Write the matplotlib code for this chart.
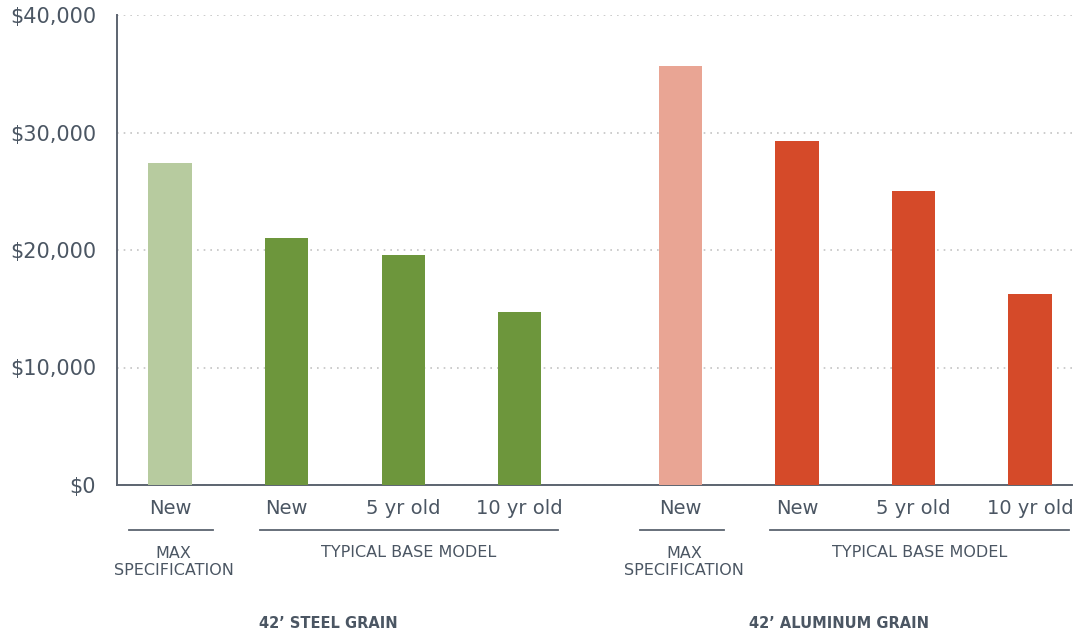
import matplotlib.pyplot as plt
import matplotlib.transforms as mtransforms
from matplotlib.ticker import FuncFormatter

plt.rcParams['font.family'] = ['DejaVu Sans']

# data
labels = ['New', 'New', '5 yr old', '10 yr old', 'New', 'New', '5 yr old', '10 yr old']
values = [27400, 21000, 19600, 14700, 35700, 29300, 25000, 16250]
colors = ['#b7cb9f', '#6d963c', '#6d963c', '#6d963c',
          '#e9a594', '#d54a29', '#d54a29', '#d54a29']
groups = ["42\u2019 STEEL GRAIN", "42\u2019 ALUMINUM GRAIN"]

txt = '#4b5663'
pos = [0, 1, 2, 3, 4.38, 5.38, 6.38, 7.38]

fig = plt.figure(figsize=(10.79, 6.34), dpi=100)
ax = fig.add_axes([117 / 1079, 1 - 485 / 634, (1072 - 117) / 1079, 470 / 634])

ax.bar(pos, values, width=0.37, color=colors, zorder=3)

ax.set_ylim(0, 40000)
ax.set_xlim(-0.455, 7.74)
ax.set_yticks([0, 10000, 20000, 30000, 40000])
ax.yaxis.set_major_formatter(FuncFormatter(lambda v, p: '${:,.0f}'.format(v)))
ax.set_xticks(pos, labels)
ax.tick_params(axis='x', length=0, pad=10, labelsize=14, labelcolor=txt)
ax.tick_params(axis='y', length=0, pad=15, labelsize=15, labelcolor=txt)

ax.grid(axis='y', color='#c4c4c4', linestyle=(0, (1, 3)), linewidth=1.2, zorder=0)
for s in ['top', 'right']:
    ax.spines[s].set_visible(False)
ax.spines['left'].set_color('#5c6470')
ax.spines['bottom'].set_color('#5c6470')
ax.spines['left'].set_linewidth(1.4)
ax.spines['bottom'].set_linewidth(1.4)

trans = mtransforms.blended_transform_factory(ax.transData, ax.transAxes)

# bracket lines and captions under categories
for g, start in enumerate([0, 4]):
    p0 = pos[start]
    ax.plot([p0 - 0.35, p0 + 0.37], [-0.096, -0.096], transform=trans,
            color='#5c6470', lw=1.3, clip_on=False)
    ax.text(p0 + 0.03, -0.164, 'MAX\nSPECIFICATION', transform=trans,
            ha='center', va='center', fontsize=11.5, color=txt, linespacing=1.15)
    a, b = pos[start + 1], pos[start + 3]
    ax.plot([a - 0.23, b + 0.33], [-0.096, -0.096], transform=trans,
            color='#5c6470', lw=1.3, clip_on=False)
    ax.text((a + b) / 2 + 0.05, -0.143, 'TYPICAL BASE MODEL', transform=trans,
            ha='center', va='center', fontsize=11.5, color=txt)
    ax.text(p0 + 1.36, -0.295, groups[g], transform=trans,
            ha='center', va='center', fontsize=10.5, fontweight='bold', color=txt)

fig.savefig('out.png', dpi=100)
